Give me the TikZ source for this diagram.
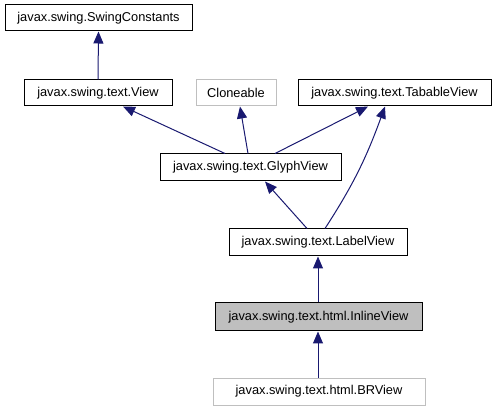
\documentclass[tikz,border=0pt]{standalone}
\usepackage{fontspec}
\setmainfont{Liberation Sans}
\usetikzlibrary{arrows.meta}
\definecolor{edgec}{HTML}{191970}
\definecolor{grayb}{HTML}{BFBFBF}
\begin{document}
\begin{tikzpicture}[x=1pt,y=-1pt,
  cls/.style={draw=black, line width=1pt, fill=white, minimum height=26pt, inner sep=0pt,
    font=\fontsize{12.8}{15}\selectfont},
  ext/.style={cls, draw=grayb},
  cur/.style={cls, fill=grayb},
  inh/.style={draw=edgec, line width=1pt, -{Triangle[length=12pt,width=10pt]}}
]
\useasboundingbox (0,0) rectangle (495,411);
\node[cls, minimum width=187pt] (sc) at (98.5,18) {javax.swing.SwingConstants};
\node[cls, minimum width=148pt] (view) at (98,93) {javax.swing.text.View};
\node[ext, minimum width=80pt] (clone) at (236,93) {Cloneable};
\node[cls, minimum width=193pt] (tab) at (394.5,93) {javax.swing.text.TabableView};
\node[cls, minimum width=181pt, minimum height=27pt] (glyph) at (250.5,167.5) {javax.swing.text.GlyphView};
\node[cls, minimum width=178pt, minimum height=27pt] (label) at (318,242.5) {javax.swing.text.LabelView};
\node[cur, minimum width=207pt, minimum height=28pt] (inline) at (318.5,317) {javax.swing.text.html.InlineView};
\node[ext, minimum width=212pt, minimum height=27pt] (br) at (319,391.5) {javax.swing.text.html.BRView};

\draw[inh] (view.north) -- (sc.south);
\draw[inh] ([xshift=-25.5pt]glyph.north) -- ([xshift=25pt]view.south);
\draw[inh] ([xshift=-2.5pt]glyph.north) -- ([xshift=4pt]clone.south);
\draw[inh] ([xshift=24.5pt]glyph.north) -- ([xshift=-26.5pt]tab.south);
\draw[inh] ([xshift=7pt]label.north) to[out=57,in=250] ([xshift=-9.5pt]tab.south);
\draw[inh] ([xshift=-11pt]label.north) -- ([xshift=14.5pt]glyph.south);
\draw[inh] ([xshift=-0.5pt]inline.north) -- (label.south);
\draw[inh] ([xshift=-1pt]br.north) -- ([xshift=-0.5pt]inline.south);
\end{tikzpicture}
\end{document}
